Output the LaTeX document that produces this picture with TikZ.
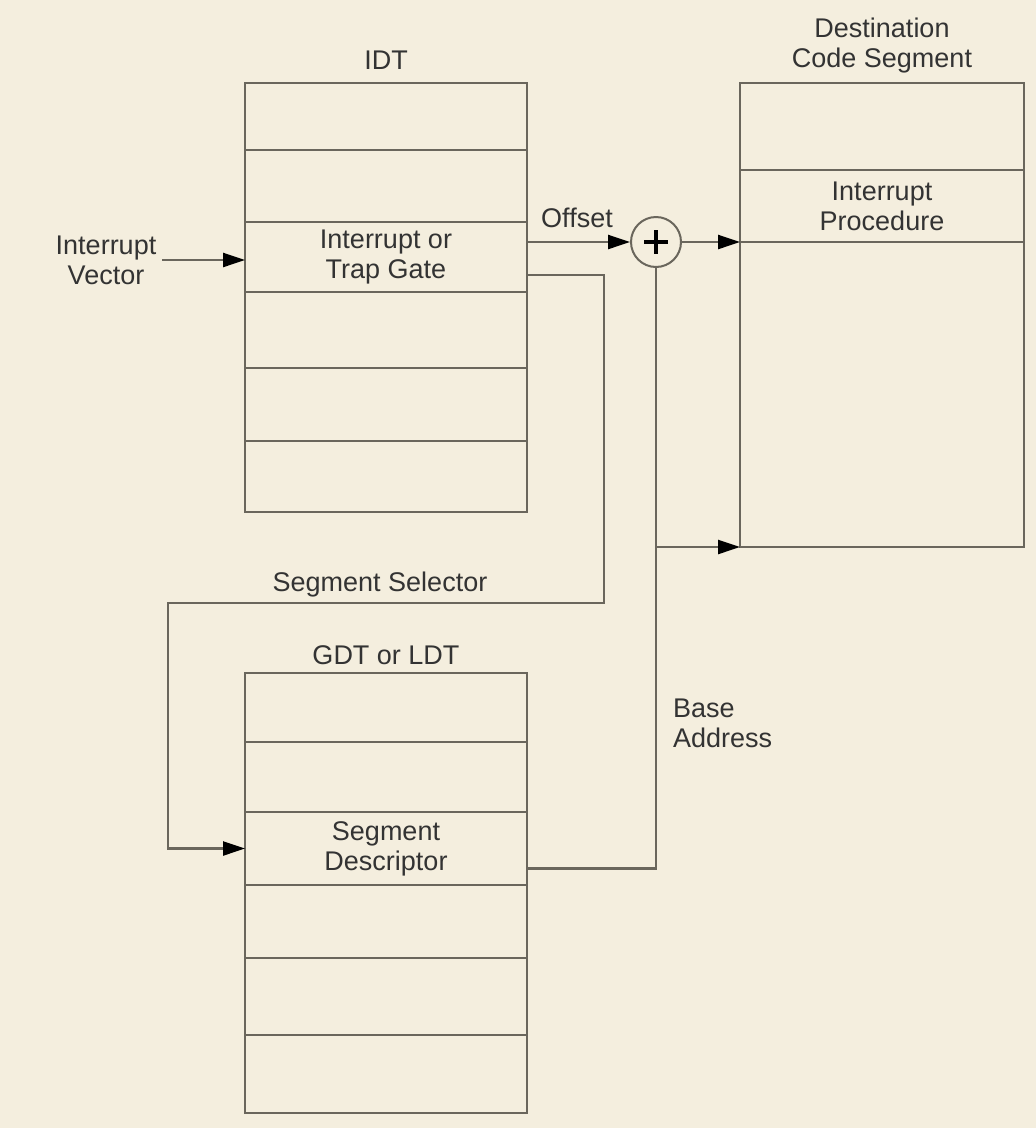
\documentclass[tikz,border=0pt]{standalone}
\usepackage{fontspec}
\setmainfont{Liberation Sans}
\usetikzlibrary{arrows.meta,calc}
\definecolor{bg}{HTML}{F4EEDE}
\definecolor{ln}{HTML}{6A665C}
\definecolor{tx}{HTML}{333333}
\begin{document}
\begin{tikzpicture}[x=1pt,y=-1pt,
  row/.style={draw=ln,line width=2.6pt,minimum width=282pt,inner sep=0pt,outer sep=0pt,anchor=north,text=tx,align=center},
  lbl/.style={text=tx,align=center,inner sep=0pt},
  conn/.style={draw=ln,line width=2.4pt},
  arr/.style={conn,-{Triangle[length=22pt,width=14pt,color=black]}},
  every node/.style={font=\fontsize{27}{30}\selectfont}]
\fill[bg] (0,0) rectangle (1036,1128);
\useasboundingbox (0,0) rectangle (1036,1128);
% IDT
\node[row,minimum height=67pt] (i1) at (386,83) {};
\node[row,minimum height=72pt] (i2) at (386,150) {};
\node[row,minimum height=70pt] (i3) at (386,222) {Interrupt or\\Trap Gate};
\node[row,minimum height=76pt] (i4) at (386,292) {};
\node[row,minimum height=73pt] (i5) at (386,368) {};
\node[row,minimum height=71pt] (i6) at (386,441) {};
\node[lbl] (idt) at (386,60) {IDT};
% GDT
\node[row,minimum height=69pt] (g1) at (386,673) {};
\node[row,minimum height=70pt] (g2) at (386,742) {};
\node[row,minimum height=73pt] (g3) at (386,812) {Segment\\Descriptor};
\node[row,minimum height=73pt] (g4) at (386,885) {};
\node[row,minimum height=77pt] (g5) at (386,958) {};
\node[row,minimum height=78pt] (g6) at (386,1035) {};
\node[lbl] (gdt) at (386,655) {GDT or LDT};
% Destination
\node[row,minimum width=284pt,minimum height=87pt] (d1) at (882,83) {};
\node[row,minimum width=284pt,minimum height=72pt] (d2) at (882,170) {Interrupt\\Procedure};
\node[row,minimum width=284pt,minimum height=305pt] (d3) at (882,242) {};
\node[lbl] (dst) at (882,46) {Destination\\Code Segment};
% labels
\node[lbl] (vec) at (106,260) {Interrupt\\Vector};
\node[lbl] (off) at (577,218) {Offset};
\node[lbl] (sel) at (380,585) {Segment Selector};
\node[lbl,align=left,anchor=west] (base) at (673,723) {Base\\Address};
% adder
\node[draw=ln,line width=2pt,circle,minimum size=50pt,inner sep=0pt] (plus) at (656,242) {};
\draw[line width=3.8pt,black] ($(plus.center)+(-12,0)$) -- ($(plus.center)+(12,0)$)
  ($(plus.center)+(0,-12)$) -- ($(plus.center)+(0,12)$);
% connectors
\coordinate (vs) at (162,260);
\draw[arr] (vs) -- (vs -| i3.west);
\coordinate (o0) at ($(i3.north east)+(0,20)$);
\draw[arr] (o0) -- (o0 -| plus.west);
\draw[arr] (plus.east) -- (plus.east -| d2.west);
\coordinate (s0) at ($(i3.north east)+(0,53)$);
\draw[arr] (s0) -- ++(77,0) |- (168,603) |- (g3.west);
\coordinate (b0) at ($(g3.east)+(0,20)$);
\draw[conn] (b0) -- (b0 -| plus.south) -- (plus.south);
\coordinate (br) at (plus.south |- d3.south);
\draw[arr] (br) -- (d3.south west);
\end{tikzpicture}
\end{document}
